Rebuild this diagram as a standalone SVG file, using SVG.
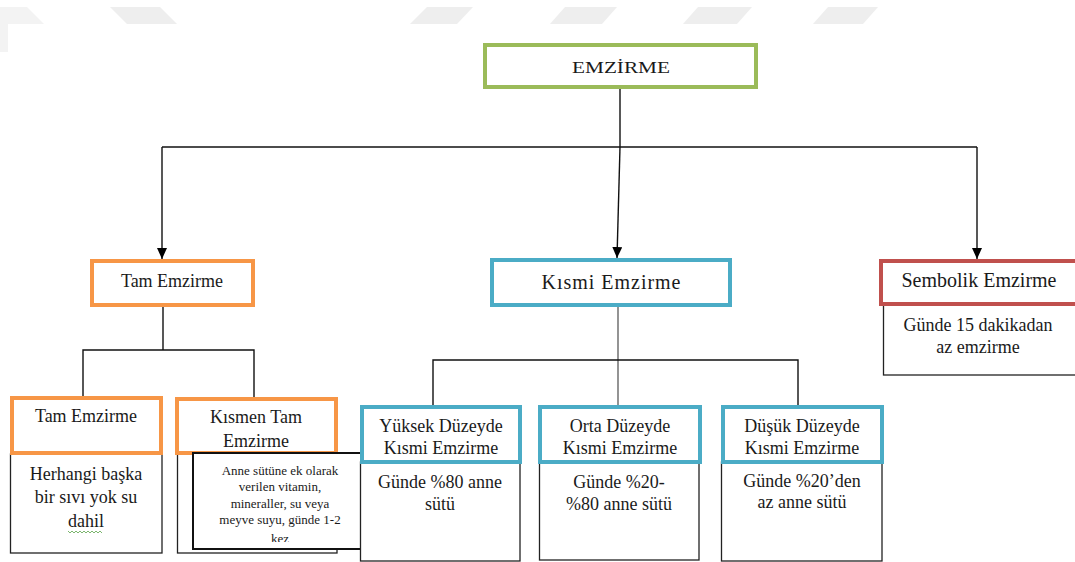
<svg xmlns="http://www.w3.org/2000/svg" width="1075" height="562" viewBox="0 0 1075 562" font-family="'Liberation Serif', 'DejaVu Serif', serif">
<style>
text{font-family:'Liberation Serif','DejaVu Serif','Times New Roman',serif;fill:#1a1a1a;text-anchor:middle}
.t18{font-size:18px}
.t20{font-size:20px}
.t13{font-size:13px}
.box{fill:#fff;stroke-width:4}
.g{stroke:#9BBB59}
.o{stroke:#F79646}
.b{stroke:#4BACC6}
.r{stroke:#C0504D}
.desc{fill:#fff;stroke:#222;stroke-width:1.3}
.pop{fill:#fff;stroke:#111;stroke-width:2}
.wm{fill:#eeeeee}
#connectors line,#connectors path{stroke:#111;stroke-width:1.4;fill:none}
</style>
<defs>
<marker id="arr" markerWidth="12" markerHeight="10" refX="11" refY="5" orient="auto" markerUnits="userSpaceOnUse">
<path d="M0,0 L11,5 L0,10 Z" fill="#000"/>
</marker>
<clipPath id="popclip"><rect x="193" y="453" width="175" height="89"/></clipPath>
</defs>
<rect width="1075" height="562" fill="#fff"/>
<g id="watermark">
<polygon class="wm" points="0,7 27,7 44,24 8,24 8,52 0,52" opacity="0.7"/>
<polygon class="wm" points="110,7 160,7 177,24 127,24"/>
<polygon class="wm" points="427,7 473,7 457,24 410,24"/>
<polygon class="wm" points="565,7 617,7 602,24 550,24"/>
<polygon class="wm" points="698,7 752,7 737,24 683,24"/>
<polygon class="wm" points="828,7 878,7 863,24 813,24"/>
</g>
<g id="connectors">
<line x1="620" y1="89" x2="620" y2="147"/>
<line x1="162" y1="147" x2="977" y2="147"/>
<line x1="162" y1="147" x2="162" y2="259" marker-end="url(#arr)"/>
<line x1="620" y1="147" x2="617" y2="258" marker-end="url(#arr)"/>
<line x1="977" y1="147" x2="977" y2="259" marker-end="url(#arr)"/>
<line x1="163" y1="307" x2="163" y2="350"/>
<path d="M83,397 V350 H254 V397"/>
<line x1="618" y1="307" x2="618" y2="405" style="stroke:#666"/>
<path d="M433,405 V360 H798 V405"/>
</g>
<g id="node-emzirme">
<rect class="box g" x="485" y="45" width="271" height="42"/>
<text x="621" y="73" font-size="17" textLength="98" lengthAdjust="spacingAndGlyphs">EMZİRME</text>
</g>
<g id="node-tam">
<rect class="box o" x="92" y="261" width="161" height="44"/>
<text class="t18" x="172" y="287">Tam Emzirme</text>
</g>
<g id="node-kismi">
<rect class="box b" x="492" y="260" width="238" height="45"/>
<text class="t20" x="611" y="289" textLength="139">Kısmi Emzirme</text>
</g>
<g id="node-sembolik">
<rect class="desc" x="883.5" y="305" width="200" height="70"/>
<rect class="box r" x="881" y="261" width="200" height="43"/>
<text class="t20" x="979" y="287">Sembolik Emzirme</text>
<text class="t18" x="978" y="331">Günde 15 dakikadan</text>
<text class="t18" x="978" y="353">az emzirme</text>
</g>
<g id="node-tam-child">
<rect class="desc" x="10.5" y="454" width="151.5" height="99"/>
<rect class="box o" x="12" y="398" width="149" height="55"/>
<text class="t18" x="86" y="422">Tam Emzirme</text>
<text class="t18" x="86" y="480">Herhangi başka</text>
<text class="t18" x="86" y="503">bir sıvı yok su</text>
<text class="t18" x="86" y="527">dahil</text>
<path d="M68,531 l2,2 l2,-2 l2,2 l2,-2 l2,2 l2,-2 l2,2 l2,-2 l2,2 l2,-2 l2,2 l2,-2 l2,2 l2,-2 l2,2 l2,-2 l2,2" fill="none" stroke="#5aa34a" stroke-width="0.8"/>
</g>
<g id="node-kismen-tam">
<rect class="desc" x="177.5" y="454" width="159.5" height="99"/>
<rect class="box o" x="177" y="399" width="159" height="54"/>
<text class="t18" x="256" y="423">Kısmen Tam</text>
<text class="t18" x="256" y="447">Emzirme</text>
</g>
<g id="node-popup">
<rect class="pop" x="193" y="453" width="175" height="96"/>
<g clip-path="url(#popclip)">
<text class="t13" x="280" y="475">Anne sütüne ek olarak</text>
<text class="t13" x="280" y="491">verilen vitamin,</text>
<text class="t13" x="280" y="508">mineraller, su veya</text>
<text class="t13" x="280" y="524">meyve suyu, günde 1-2</text>
<text class="t13" x="280" y="543">kez</text>
</g>
</g>
<g id="node-yuksek">
<rect class="desc" x="360.5" y="462" width="159.5" height="99"/>
<rect class="box b" x="362" y="407" width="158" height="55"/>
<text class="t18" x="441" y="432">Yüksek Düzeyde</text>
<text class="t18" x="441" y="454">Kısmi Emzirme</text>
<text class="t18" x="440" y="488">Günde %80 anne</text>
<text class="t18" x="440" y="510">sütü</text>
</g>
<g id="node-orta">
<rect class="desc" x="539.5" y="462" width="159.5" height="98"/>
<rect class="box b" x="540" y="407" width="160" height="55"/>
<text class="t18" x="620" y="432">Orta Düzeyde</text>
<text class="t18" x="620" y="454">Kısmi Emzirme</text>
<text class="t18" x="619" y="488">Günde %20-</text>
<text class="t18" x="619" y="510">%80 anne sütü</text>
</g>
<g id="node-dusuk">
<rect class="desc" x="721.5" y="462" width="160.5" height="99"/>
<rect class="box b" x="723" y="407" width="159" height="55"/>
<text class="t18" x="802" y="432">Düşük Düzeyde</text>
<text class="t18" x="802" y="454">Kısmi Emzirme</text>
<text class="t18" x="802" y="487">Günde %20’den</text>
<text class="t18" x="802" y="508">az anne sütü</text>
</g>
</svg>
